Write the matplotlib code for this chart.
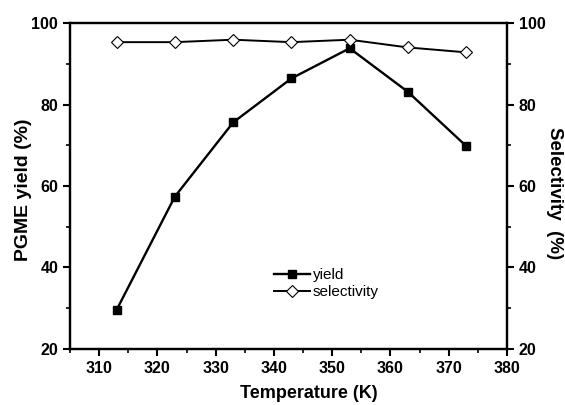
import matplotlib
matplotlib.use("Agg")
import matplotlib.pyplot as plt
from matplotlib.ticker import MultipleLocator

plt.rcParams['font.family'] = ['Liberation Sans', 'DejaVu Sans']

# ---------- data ----------
temperature = [313, 323, 333, 343, 353, 363, 373]
yield_pct = [29.6, 57.4, 75.6, 86.4, 93.8, 83.1, 69.8]
selectivity = [95.3, 95.3, 95.9, 95.3, 95.9, 94.0, 92.8]


def style_ax(ax):
    for sp in ax.spines.values():
        sp.set_linewidth(1.6)
    ax.tick_params(which='major', direction='out', length=5, width=1.5,
                   labelsize=11.5, pad=3.5)
    ax.tick_params(which='minor', direction='out', length=3, width=1.2)
    for lab in ax.get_xticklabels() + ax.get_yticklabels():
        lab.set_fontweight('bold')


fig = plt.figure(figsize=(5.65, 4.05), dpi=100)
ax = fig.add_axes([0.1239, 0.1383, 0.7734, 0.8049])
ax2 = ax.twinx()

l1, = ax.plot(temperature, yield_pct, color='black', lw=1.7,
              marker='s', ms=5.5, mfc='black', mec='black', label='yield')
l2, = ax2.plot(temperature, selectivity, color='black', lw=1.4,
               marker='D', ms=6, mfc='white', mec='black', mew=0.8,
               label='selectivity')

ax.set_xlim(305, 380)
ax.set_ylim(20, 100)
ax2.set_ylim(20, 100)

ax.xaxis.set_major_locator(MultipleLocator(10))
ax.xaxis.set_minor_locator(MultipleLocator(5))
for a in (ax, ax2):
    a.yaxis.set_major_locator(MultipleLocator(20))
    a.yaxis.set_minor_locator(MultipleLocator(10))

style_ax(ax)
style_ax(ax2)

# axis labels (positions)
ax.set_xlabel('Temperature (K)', fontsize=13, fontweight='bold', va='center')
ax.xaxis.set_label_coords(309 / 565, 1 - 394 / 405, transform=fig.transFigure)
ax.set_ylabel('PGME yield (%)', fontsize=14, fontweight='bold', va='center')
ax.yaxis.set_label_coords(24 / 565, 1 - 189.5 / 405, transform=fig.transFigure)
ax2.set_ylabel('Selectivity  (%)', fontsize=13.5, fontweight='bold',
               rotation=270, va='center')
ax2.yaxis.set_label_coords(555 / 565, 1 - 193 / 405, transform=fig.transFigure)

ax.legend(handles=[l1, l2], loc='upper left',
          bbox_to_anchor=(274 / 565, 1 - 268 / 405),
          bbox_transform=fig.transFigure,
          frameon=False, fontsize=11, handlelength=2.35, handletextpad=0.2,
          labelspacing=0.2, borderpad=0, borderaxespad=0)

fig.savefig('out.png', dpi=100)
